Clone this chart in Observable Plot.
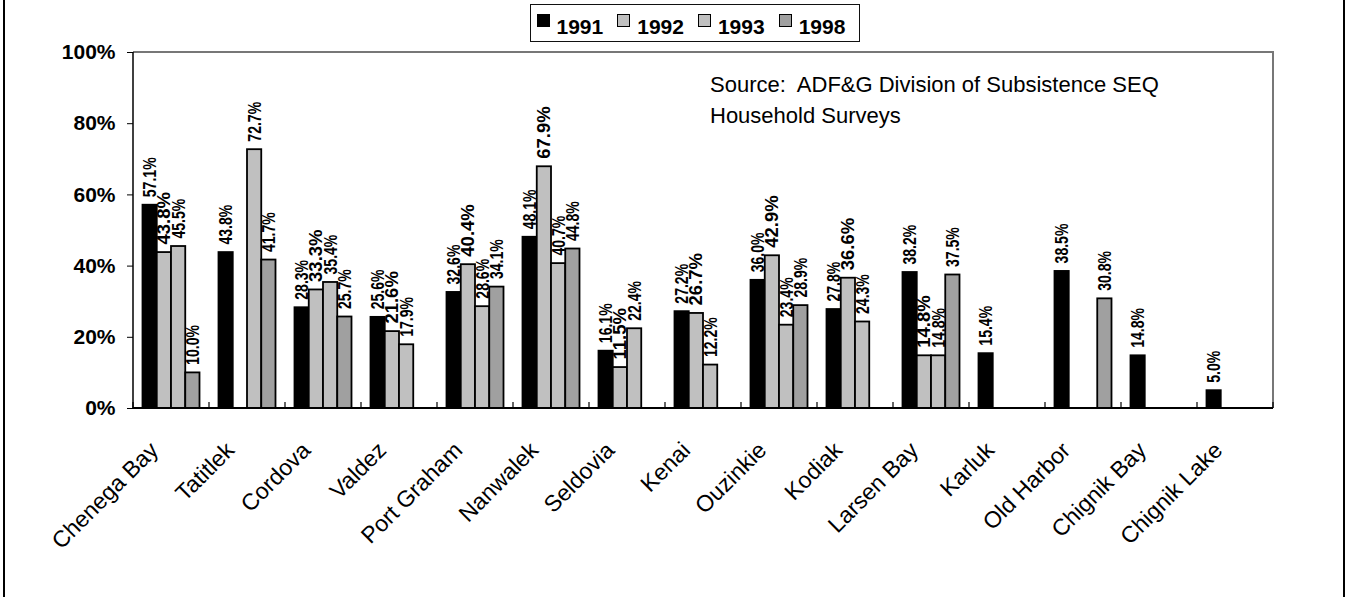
<!DOCTYPE html>
<html>
<head>
<meta charset="utf-8">
<script src="https://cdn.jsdelivr.net/npm/d3@7"></script>
<script src="https://cdn.jsdelivr.net/npm/@observablehq/plot@0.6"></script>
<style>
  html, body { margin: 0; padding: 0; background: #fff; overflow: hidden; }
  body { position: relative; width: 1345px; height: 597px; font-family: "Liberation Sans", Arial, sans-serif; }
  #chart { position: absolute; left: 0; top: 0; }
  #border { position: absolute; left: 3px; top: 0; width: 1342px; height: 597px; box-sizing: border-box;
            border-left: 2px solid #000; border-right: 2px solid #000; pointer-events: none; }
  #legend { position: absolute; left: 530px; top: 4px; width: 330px; height: 38px; box-sizing: border-box;
            border: 1.5px solid #111; background: #fff; padding-left: 5.5px; white-space: nowrap;
            font-weight: bold; font-size: 21px; line-height: 44px; color: #000; }
  #legend .item { display: inline-block; margin-right: 14px; }
  #legend .sw { display: inline-block; width: 13px; height: 13px; box-sizing: border-box; border: 1px solid #000;
                vertical-align: 7px; margin-right: 7px; }
  #source { position: absolute; left: 710px; top: 68.6px; font-size: 22px; line-height: 31px; color: #000; }
</style>
</head>
<body>
<div id="chart"></div>
<div id="legend"></div>
<div id="source">Source:&nbsp; ADF&amp;G Division of Subsistence SEQ<br>Household Surveys</div>
<div id="border"></div>
<script>
// ---- data ----
const locations = ["Chenega Bay", "Tatitlek", "Cordova", "Valdez", "Port Graham", "Nanwalek", "Seldovia",
  "Kenai", "Ouzinkie", "Kodiak", "Larsen Bay", "Karluk", "Old Harbor", "Chignik Bay", "Chignik Lake"];
const years = ["1991", "1992", "1993", "1998"];
const pct1991 = [57.1, 43.8, 28.3, 25.6, 32.6, 48.1, 16.1, 27.2, 36.0, 27.8, 38.2, 15.4, 38.5, 14.8, 5.0];
const pct1992 = [43.8, null, 33.3, 21.6, 40.4, 67.9, 11.5, 26.7, 42.9, 36.6, 14.8, null, null, null, null];
const pct1993 = [45.5, 72.7, 35.4, 17.9, 28.6, 40.7, 22.4, 12.2, 23.4, 24.3, 14.8, null, null, null, null];
const pct1998 = [10.0, 41.7, 25.7, null, 34.1, 44.8, null, null, 28.9, null, 37.5, null, 30.8, null, null];
const yTicks = [0, 20, 40, 60, 80, 100];
const yearColors = ["#000000", "#c0c0c0", "#c0c0c0", "#a0a0a0"];

(function () {
  const series = [pct1991, pct1992, pct1993, pct1998];
  const rows = [];
  locations.forEach((loc, i) => {
    years.forEach((yr, j) => {
      const v = series[j][i];
      if (v != null) rows.push({loc, year: yr, value: v});
    });
  });
  const fmt = d => d.value.toFixed(1) + "%";

  // ---- legend ----
  const legend = document.getElementById("legend");
  years.forEach((yr, j) => {
    const it = document.createElement("span");
    it.className = "item";
    const sw = document.createElement("span");
    sw.className = "sw";
    sw.style.background = yearColors[j];
    it.appendChild(sw);
    it.appendChild(document.createTextNode(yr));
    legend.appendChild(it);
  });

  // ---- chart ----
  const W = 1345, H = 597, mL = 133, mR = 72, mT = 52, mB = 189;
  const padInner = 0.25, padOuter = 0.125;
  const outerOffset = ((W - mL - mR) / locations.length) * padOuter;

  const plot = Plot.plot({
    width: W, height: H,
    marginLeft: mL, marginRight: mR, marginTop: mT, marginBottom: mB,
    style: {fontFamily: '"Liberation Sans", Arial, sans-serif', color: "#000", background: "transparent"},
    fx: {domain: locations, paddingInner: padInner, paddingOuter: padOuter, round: false, label: null},
    x: {domain: years, padding: 0, axis: null, round: false},
    y: {domain: [0, 100], label: null},
    color: {domain: years, range: yearColors},
    marks: [
      Plot.barY(rows, {fx: "loc", x: "year", y: "value", fill: "year", stroke: "#000", strokeWidth: 1.8}),
      Plot.text(rows.filter(d => d.year !== "1992"), {fx: "loc", x: "year", y: "value", text: fmt,
        rotate: -90, textAnchor: "start", dy: -8, fontWeight: "bold", fontSize: 18.5, fill: "#000",
        className: "vlab-narrow"}),
      Plot.text(rows.filter(d => d.year === "1992"), {fx: "loc", x: "year", y: "value", text: fmt,
        rotate: -90, textAnchor: "start", dy: -8, fontWeight: "bold", fontSize: 18.5, fill: "#000",
        className: "vlab-wide"}),
      Plot.axisY({ticks: yTicks, tickFormat: d => d + "%", tickSize: 6, tickPadding: 12,
        fontSize: 21, fontWeight: "bold", dx: -outerOffset, label: null}),
      Plot.axisFx({anchor: "bottom", tickSize: 0, tickRotate: -45, tickPadding: 38, dx: -17,
        fontSize: 23, textAnchor: "end", label: null})
    ]
  });
  document.getElementById("chart").appendChild(plot);

  const svgEl = plot.tagName.toLowerCase() === "svg" ? plot : plot.querySelector("svg");
  const svg = d3.select(svgEl);

  // condensed value labels, as in the original
  svg.selectAll(".vlab-narrow text").each(function () {
    const t = this.getAttribute("transform") || "";
    this.setAttribute("transform", t + " scale(0.76,1)");
  });

  // ---- axis lines, plot-area frame and category boundary ticks from the scales ----
  const fxS = plot.scale("fx"), yS = plot.scale("y");
  const xLeft = fxS.range[0], xRight = fxS.range[1];
  const yTop = yS.apply(100), yBot = yS.apply(0);
  const step = fxS.step || (xRight - xLeft) / locations.length;
  const bw = fxS.bandwidth || step * (1 - padInner);
  const g = svg.append("g");
  g.append("path").attr("d", `M${xLeft},${yTop}H${xRight}V${yBot}`).attr("fill", "none")
    .attr("stroke", "#777").attr("stroke-width", 2);
  g.append("line").attr("x1", xLeft).attr("x2", xLeft).attr("y1", yTop).attr("y2", yBot)
    .attr("stroke", "#000").attr("stroke-width", 1.5);
  g.append("line").attr("x1", xLeft).attr("x2", xRight).attr("y1", yBot).attr("y2", yBot)
    .attr("stroke", "#000").attr("stroke-width", 2);
  const bounds = locations.map(l => fxS.apply(l) - (step - bw) / 2).concat([xRight]);
  g.selectAll("line.bt").data(bounds).join("line").attr("class", "bt")
    .attr("x1", d => d).attr("x2", d => d).attr("y1", yBot).attr("y2", yBot - 6)
    .attr("stroke", "#000").attr("stroke-width", 1.2);
})();
</script>
</body>
</html>
